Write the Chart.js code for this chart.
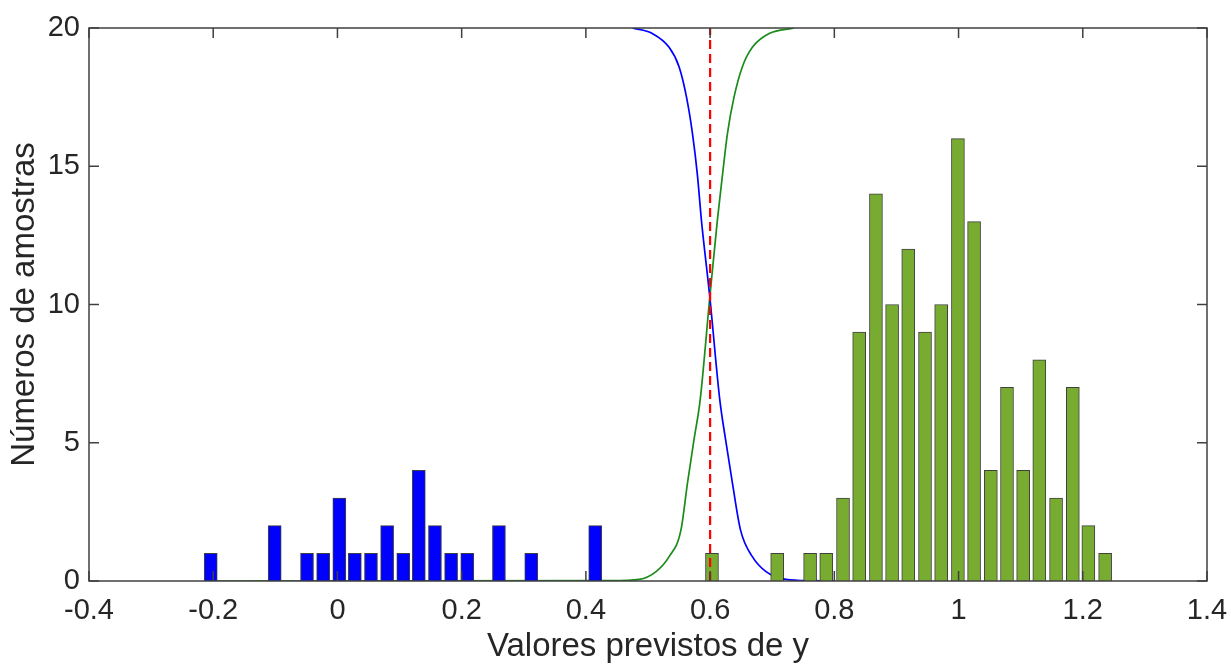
<!DOCTYPE html>
<html>
  <head>
    <title>Valores previstos de y</title>
    <style>
      html, body { margin: 0; padding: 0; background: #ffffff; }
      #wrap { width: 1231px; height: 665px; }
    </style>
  </head>
  <body>

    <!-- Chart.js from CDN -->
    <script src="https://cdn.jsdelivr.net/npm/chart.js@4.4.1/dist/chart.umd.min.js"></script>

    <div id="wrap">
      <canvas id="histChart" width="1231" height="665"></canvas>
    </div>

    <script>

      // Histogram bins of the first class (blue)
      const blueCenters = [-0.204, -0.101, -0.049, -0.023, 0.003, 0.028, 0.054, 0.080, 0.106, 0.131, 0.157, 0.183, 0.209, 0.260, 0.312, 0.415];
      const blueCounts  = [1, 2, 1, 1, 3, 1, 1, 2, 1, 4, 2, 1, 1, 2, 1, 2];

      // Histogram bins of the second class (green)
      const greenCenters = [0.603, 0.708, 0.761, 0.787, 0.814, 0.840, 0.867, 0.893, 0.919, 0.946, 0.972, 0.999, 1.025, 1.052, 1.078, 1.104, 1.130, 1.157, 1.184, 1.209, 1.236];
      const greenCounts  = [1, 1, 1, 1, 3, 9, 14, 10, 12, 9, 10, 16, 13, 4, 7, 4, 8, 3, 7, 2, 1];

      // Decreasing curve (blue)
      const blueCurveX = [0.475, 0.507, 0.534, 0.550, 0.562, 0.5715, 0.5795, 0.586, 0.5995, 0.6156, 0.625, 0.636, 0.649, 0.668, 0.690, 0.722, 0.764, 0.80];
      const blueCurveY = [20, 19.8, 19.3, 18.6, 17.5, 16.2, 14.7, 13.05, 10.27, 6.55, 5.1, 3.53, 1.84, 0.88, 0.34, 0.06, 0.01, 0];

      // Increasing curve (green)
      const greenCurveX = [-0.2, 0.44, 0.486, 0.513, 0.534, 0.553, 0.5635, 0.574, 0.584, 0.5995, 0.6117, 0.620, 0.628, 0.6385, 0.652, 0.668, 0.695, 0.735];
      const greenCurveY = [0, 0.01, 0.06, 0.34, 0.88, 1.84, 3.53, 5.1, 6.55, 10.27, 13.05, 14.7, 16.2, 17.5, 18.6, 19.3, 19.8, 20];

      // Threshold line
      const thresholdX = [0.6, 0.6];
      const thresholdY = [0, 20];

      // Axis ticks
      const xTickLabels = ["-0.4", "-0.2", "0", "0.2", "0.4", "0.6", "0.8", "1", "1.2", "1.4"];
      const yTickLabels = ["0", "5", "10", "15", "20"];

      const toPoints = (xs, ys) => xs.map((x, i) => ({ x: x, y: ys[i] }));

      const textColor = "#262626";
      const axisColor = "#404040";

      // MATLAB style box with inward ticks, drawn on top of the data
      const boxPlugin = {
        id: "box",
        afterDatasetsDraw(chart) {
          const { ctx, chartArea: a, scales } = chart;
          const len = 10;
          ctx.save();
          ctx.strokeStyle = axisColor;
          ctx.lineWidth = 1.5;
          ctx.strokeRect(a.left, a.top, a.right - a.left, a.bottom - a.top);
          ctx.beginPath();
          scales.x.ticks.forEach((t) => {
            const px = scales.x.getPixelForValue(t.value);
            ctx.moveTo(px, a.bottom); ctx.lineTo(px, a.bottom - len);
            ctx.moveTo(px, a.top); ctx.lineTo(px, a.top + len);
          });
          scales.y.ticks.forEach((t) => {
            const py = scales.y.getPixelForValue(t.value);
            ctx.moveTo(a.left, py); ctx.lineTo(a.left + len, py);
            ctx.moveTo(a.right, py); ctx.lineTo(a.right - len, py);
          });
          ctx.stroke();
          ctx.restore();
        }
      };

      const ctx = document.getElementById("histChart").getContext("2d");

      const chart = new Chart(ctx, {
        type: "bar",
        data: {
          datasets: [
            {
              type: "line",
              data: toPoints(thresholdX, thresholdY),
              borderColor: "#ff0000",
              borderWidth: 2.2,
              borderDash: [9, 5],
              pointRadius: 0,
              tension: 0,
              order: 0
            },
            {
              type: "bar",
              data: toPoints(blueCenters, blueCounts),
              backgroundColor: "#0000ff",
              borderColor: "rgba(30,30,30,0.85)",
              borderWidth: 1,
              barThickness: 13,
              grouped: false,
              order: 1
            },
            {
              type: "bar",
              data: toPoints(greenCenters, greenCounts),
              backgroundColor: "#77ac30",
              borderColor: "rgba(30,30,30,0.85)",
              borderWidth: 1,
              barThickness: 13,
              grouped: false,
              order: 1
            },
            {
              type: "line",
              data: toPoints(blueCurveX, blueCurveY),
              borderColor: "#0000ff",
              borderWidth: 1.7,
              pointRadius: 0,
              cubicInterpolationMode: "monotone",
              order: 2
            },
            {
              type: "line",
              data: toPoints(greenCurveX, greenCurveY),
              borderColor: "#1a8c1a",
              borderWidth: 1.7,
              pointRadius: 0,
              cubicInterpolationMode: "monotone",
              order: 2
            }
          ]
        },
        options: {
          responsive: false,
          animation: false,
          layout: { padding: { top: 28, right: 24, bottom: 0, left: 0 } },
          plugins: {
            legend: { display: false },
            tooltip: { enabled: false }
          },
          scales: {
            x: {
              type: "linear",
              offset: false,
              min: -0.4,
              max: 1.4,
              grid: { display: false, drawTicks: false },
              border: { display: false },
              afterFit: (scale) => {
                scale.height = 84;
                scale.paddingLeft = 0;
                scale.paddingRight = 0;
              },
              ticks: {
                stepSize: 0.2,
                padding: 13,
                color: textColor,
                font: { family: "Liberation Sans", size: 29 },
                maxRotation: 0,
                callback: (value, index) => xTickLabels[index]
              },
              title: {
                display: true,
                text: "Valores previstos de y",
                color: textColor,
                font: { family: "Liberation Sans", size: 33 },
                padding: { top: 0, bottom: -2 }
              }
            },
            y: {
              min: 0,
              max: 20,
              grid: { display: false, drawTicks: false },
              border: { display: false },
              afterFit: (scale) => { scale.width = 89; },
              ticks: {
                stepSize: 5,
                padding: 9,
                color: textColor,
                font: { family: "Liberation Sans", size: 29 },
                callback: (value, index) => yTickLabels[index]
              },
              title: {
                display: true,
                text: "Números de amostras",
                color: textColor,
                font: { family: "Liberation Sans", size: 33 },
                padding: { top: 5, bottom: 0 }
              }
            }
          }
        },
        plugins: [boxPlugin]
      });

    </script>
  </body>
</html>
